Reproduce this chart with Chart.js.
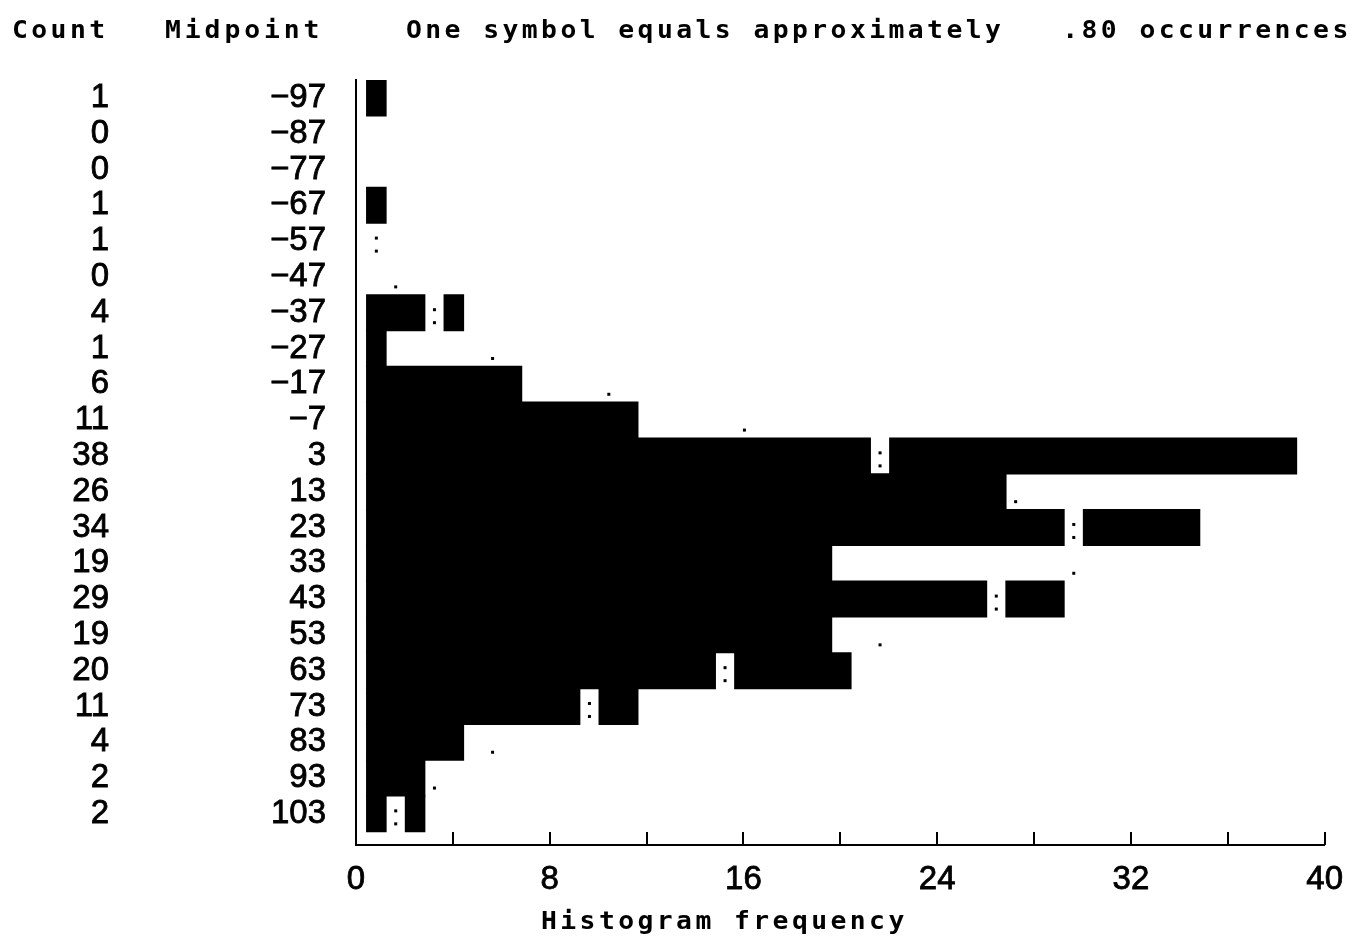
<!DOCTYPE html>
<html>
<head>
<meta charset="utf-8">
<script src="https://cdn.jsdelivr.net/npm/chart.js@4/dist/chart.umd.min.js"></script>
<style>
  body { margin: 0; background: #fff; }
  #wrap { width: 1361px; height: 938px; position: relative; }
</style>
</head>
<body>
<div id="wrap"><canvas id="histChart"></canvas></div>
<script>
// histogram rows, top to bottom
const midpoints = [-97, -87, -77, -67, -57, -47, -37, -27, -17, -7, 3, 13, 23, 33, 43, 53, 63, 73, 83, 93, 103];
const counts = [1, 0, 0, 1, 1, 0, 4, 1, 6, 11, 38, 26, 34, 19, 29, 19, 20, 11, 4, 2, 2];
// column (in symbols) where the normal curve mark sits, 0 = none
const curveCols = [0, 0, 0, 0, 1, 2, 4, 7, 13, 20, 27, 34, 37, 37, 33, 27, 19, 12, 7, 4, 2];
const xTicks = [0, 4, 8, 12, 16, 20, 24, 28, 32, 36, 40];

const SYMBOL = 0.8;     // one symbol = .80 occurrences
const START = 0.44;     // bars start a little right of the axis

const numFont = '"Liberation Sans", Arial, sans-serif';
const monoFont = '"DejaVu Sans Mono", monospace';

const nSym = counts.map(c => Math.round(c / SYMBOL));

// split every bar where the curve mark falls inside it
const leftSeg = [], rightSeg = [];
counts.forEach((c, i) => {
    const n = nSym[i], k = curveCols[i];
    const end = START + n * SYMBOL;
    if (k >= 1 && k <= n) {
        leftSeg.push({ y: i, x: k > 1 ? [START, START + (k - 1) * SYMBOL] : null });
        rightSeg.push({ y: i, x: k < n ? [START + k * SYMBOL, end] : null });
    } else {
        leftSeg.push({ y: i, x: n > 0 ? [START, end] : null });
        rightSeg.push({ y: i, x: null });
    }
});

// old printer look: fixed pitch, a bit wide
function monoText(ctx, str, x, y, pitch) {
    for (let i = 0; i < str.length; i++) {
        ctx.save();
        ctx.translate(x + i * pitch, y);
        ctx.scale(1.1, 1);
        ctx.fillText(str[i], 0, 0);
        ctx.restore();
    }
}

const extras = {
    id: 'extras',
    afterDraw(chart) {
        const ctx = chart.ctx;
        const xs = chart.scales.x, ys = chart.scales.y;
        const bottom = chart.chartArea.bottom;
        ctx.save();
        ctx.fillStyle = '#000';
        ctx.strokeStyle = '#000';

        // inward tick marks on the frequency axis
        ctx.lineWidth = 2;
        xTicks.forEach(v => {
            if (v === 0) return;
            const px = Math.round(xs.getPixelForValue(v));
            ctx.beginPath();
            ctx.moveTo(px, bottom);
            ctx.lineTo(px, bottom - 13);
            ctx.stroke();
        });

        // normal curve marks: ':' inside a bar, '.' outside
        curveCols.forEach((k, i) => {
            if (!k) return;
            const px = xs.getPixelForValue(START + (k - 0.5) * SYMBOL);
            const py = ys.getPixelForValue(i);
            ctx.fillRect(px - 1.5, py + 8.5, 3, 3);
            if (k <= nSym[i]) ctx.fillRect(px - 1.5, py - 4.5, 3, 3);
        });

        // count column
        ctx.font = '33px ' + numFont;
        ctx.textAlign = 'right';
        ctx.textBaseline = 'middle';
        ctx.lineWidth = 0.8;
        counts.forEach((c, i) => {
            const py = ys.getPixelForValue(i);
            ctx.fillText(String(c), 109, py);
            ctx.strokeText(String(c), 109, py);
        });

        // headers and axis title
        ctx.font = 'bold 24px ' + monoFont;
        ctx.textAlign = 'left';
        ctx.textBaseline = 'alphabetic';
        monoText(ctx, 'Count', 12, 38, 19.3);
        monoText(ctx, 'Midpoint', 165, 38, 19.8);
        monoText(ctx, 'One symbol equals approximately   .80 occurrences', 406, 38, 19.3);
        monoText(ctx, 'Histogram frequency', 541, 929, 19.3);
        ctx.restore();
    }
};

const tickFont = { family: numFont, size: 33, lineHeight: 1 };

new Chart(document.getElementById('histChart'), {
    type: 'bar',
    data: {
        datasets: [
            { data: leftSeg, backgroundColor: '#000', borderWidth: 0, grouped: false, inflateAmount: 0.6 },
            { data: rightSeg, backgroundColor: '#000', borderWidth: 0, grouped: false, inflateAmount: 0.6 }
        ]
    },
    options: {
        indexAxis: 'y',
        responsive: true,
        maintainAspectRatio: false,
        animation: false,
        barPercentage: 1,
        categoryPercentage: 1,
        layout: { padding: { top: 80, right: 34, left: 0, bottom: 0 } },
        plugins: { legend: { display: false }, tooltip: { enabled: false } },
        scales: {
            x: {
                type: 'linear',
                min: 0,
                max: 40,
                afterBuildTicks: scale => { scale.ticks = xTicks.map(v => ({ value: v })); },
                afterFit: scale => { scale.height = 93; },
                grid: { display: false, drawTicks: false },
                border: { display: true, color: '#000', width: 2 },
                ticks: {
                    color: '#000',
                    font: tickFont,
                    textStrokeColor: '#000',
                    textStrokeWidth: 0.8,
                    padding: 18,
                    autoSkip: false,
                    maxRotation: 0,
                    callback: v => (v % 8 === 0 ? String(v) : '')
                }
            },
            y: {
                type: 'linear',
                reverse: true,
                offset: false,
                min: -0.5,
                max: 20.87,
                afterBuildTicks: scale => { scale.ticks = midpoints.map((m, i) => ({ value: i })); },
                afterFit: scale => { scale.width = 356; },
                grid: { display: false, drawTicks: false },
                border: { display: true, color: '#000', width: 2 },
                ticks: {
                    color: '#000',
                    font: tickFont,
                    textStrokeColor: '#000',
                    textStrokeWidth: 0.8,
                    padding: 30,
                    autoSkip: false,
                    callback: v => String(midpoints[v]).replace('-', '\u2212')
                }
            }
        }
    },
    plugins: [extras]
});
</script>
</body>
</html>
